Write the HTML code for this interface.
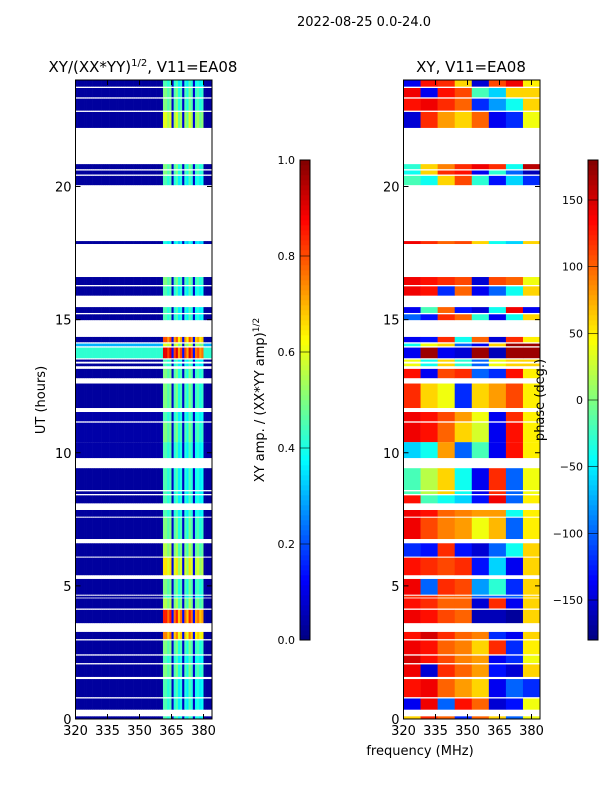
<!DOCTYPE html>
<html><head><meta charset="utf-8"><style>
body{margin:0;background:#fff;}
svg text{font-family:"DejaVu Sans","Liberation Sans",sans-serif;fill:#000;}
</style></head><body>
<svg id="fig" width="600" height="800" viewBox="0 0 600 800" xmlns="http://www.w3.org/2000/svg">
<rect width="600" height="800" fill="#fff"/>
<text x="364" y="26" font-size="13" text-anchor="middle">2022-08-25 0.0-24.0</text>
<text x="143" y="72" font-size="15" text-anchor="middle">XY/(XX*YY)<tspan font-size="10" dy="-6">1/2</tspan><tspan dy="6">, V11=EA08</tspan></text>
<text x="471" y="72" font-size="15" text-anchor="middle">XY, V11=EA08</text>
<text transform="translate(45,400) rotate(-90)" font-size="13" text-anchor="middle">UT (hours)</text>
<text x="420" y="755" font-size="13" text-anchor="middle">frequency (MHz)</text>
<text transform="translate(264,400) rotate(-90)" font-size="13" text-anchor="middle">XY amp. / (XX*YY amp)<tspan font-size="9" dy="-5">1/2</tspan></text>
<g id="left"></g>
<g id="right"></g>
<g id="cb1"></g>
<g id="cb2"></g>
<text transform="translate(544,400) rotate(-90)" font-size="13" text-anchor="middle">phase (deg.)</text>
</svg>
<script>
// time segments with data [start hour, end hour]
const segStart=[0,0.35,0.82,1.58,2.1,2.43,3.0,3.6,4.15,4.56,4.67,5.4,6.1,6.76,7.6,8.1,8.45,8.6,9.8,10.4,11.18,11.68,12.8,13.25,13.42,13.55,14.0,14.15,14.98,15.25,15.9,16.3,17.84,20.05,20.45,20.65,22.2,22.85,23.35,23.75];
const segEnd=[0.1,0.77,1.5,2.05,2.38,2.95,3.27,4.1,4.53,4.63,5.26,6.06,6.6,7.56,7.85,8.4,8.55,9.42,10.4,11.13,11.53,12.6,13.15,13.35,13.5,13.95,14.1,14.35,15.2,15.47,16.25,16.6,17.95,20.4,20.6,20.84,22.8,23.3,23.7,24.0];
// amplitude gain in bright channels per segment
const ampGain=[0.45,0.45,0.45,0.5,0.45,0.5,0.75,0.85,0.55,0.45,0.5,0.65,0.55,0.5,0.45,0.45,0.45,0.45,0.45,0.5,0.45,0.5,0.5,0.45,0.45,0.9,0.6,0.8,0.45,0.45,0.45,0.5,0.4,0.45,0.5,0.5,0.6,0.5,0.5,0.45];
// amplitude floor outside bright channels
const ampFloor=[0.03,0.03,0.03,0.03,0.03,0.03,0.03,0.03,0.03,0.03,0.03,0.03,0.03,0.03,0.03,0.03,0.03,0.03,0.04,0.04,0.04,0.03,0.03,0.03,0.03,0.42,0.3,0.03,0.03,0.03,0.03,0.03,0.03,0.03,0.03,0.03,0.03,0.03,0.03,0.03];
// channel profile, 1 MHz channels from 320 to 384
const chanProfile=[0,0,0,0,0,0,0,0,0,0,0,0,0,0,0,0,0,0,0,0,0,0,0,0,0,0,0,0,0,0,0,0,0,0,0,0,0,0,0,0,0,1,1,0.9,1,0.15,0.9,1,0.8,0.9,0.15,0.9,0.8,1,0.9,0.15,0.85,0.9,0.8,0.85,0,0,0,0];
// phase (deg) per segment, 8 MHz columns 320..384
const phase=[
[60,120,100,-120,100,60,-100,40],[-140,140,-100,130,100,-150,-130,40],[130,140,100,80,60,-140,-100,-120],
[140,-150,120,100,80,-130,-150,60],[150,130,110,90,80,-140,-120,40],[140,130,100,90,60,120,-120,50],
[130,150,120,100,90,-120,-140,60],[140,130,110,100,-160,-160,-170,60],[130,120,100,100,-150,120,-140,60],
[120,120,100,100,-100,-100,-100,60],[140,-100,120,110,-80,-30,-120,60],[130,120,110,120,-130,-60,-140,60],
[-120,-130,120,-130,-150,-100,-40,60],[140,110,90,80,40,70,-100,50],[140,130,100,90,80,80,-40,50],
[130,-20,-40,-60,-130,140,-100,50],[-20,20,60,-40,-140,120,-100,40],[-20,20,60,-40,-140,120,-100,40],
[-60,-40,80,-100,-20,-140,130,50],[140,130,100,60,30,-140,130,50],[140,130,110,80,40,-140,120,50],
[120,60,40,-120,60,80,110,50],[130,-140,110,120,-100,-120,130,50],[40,-40,60,-30,-100,40,60,60],
[40,-40,60,-30,-100,40,60,60],[-140,170,-140,-150,170,-160,170,170],[-40,40,60,-100,-140,60,170,170],
[-140,-130,120,-40,100,-150,120,50],[-100,-130,120,100,-30,-140,-40,60],[-140,-20,100,-130,-150,-40,140,-140],
[140,130,-120,100,-140,-100,-40,60],[140,130,120,110,-150,110,100,40],[140,120,100,110,60,-40,-60,60],
[-20,-40,60,110,-30,-130,-60,-120],[-40,60,120,130,-140,-30,-100,-160],[-30,60,90,120,140,120,-40,160],
[-150,120,80,60,100,-140,-120,40],[130,140,120,100,-120,-80,-40,60],[140,-140,130,110,-20,-60,60,60],
[-140,130,120,60,-150,110,140,50]];
const yTicks=[0,5,10,15,20];
const xTicks=[320,335,350,365,380];
const ampTicks=[0.0,0.2,0.4,0.6,0.8,1.0];
const phTicks=[150,100,50,0,-50,-100,-150];

const NS='http://www.w3.org/2000/svg';
function mk(t,a,p){const e=document.createElementNS(NS,t);for(const k in a)e.setAttribute(k,a[k]);p.appendChild(e);return e;}
function jet(v){v=Math.max(0,Math.min(1,v));
 const r=Math.max(0,Math.min(1,Math.min(4*v-1.5,-4*v+4.5)));
 const g=Math.max(0,Math.min(1,Math.min(4*v-0.5,-4*v+3.5)));
 const b=Math.max(0,Math.min(1,Math.min(4*v+0.5,-4*v+2.5)));
 return 'rgb('+Math.round(r*255)+','+Math.round(g*255)+','+Math.round(b*255)+')';}
const Y0=719,Y1=80;
const yS=h=>Y0-(h/24)*(Y0-Y1);
function xS(x0){return f=>x0+(f-320)/15*32;}
const W=136.5;

function axes(g,x0){
 const x=xS(x0);
 mk('rect',{x:x0,y:Y1,width:W,height:Y0-Y1,fill:'none',stroke:'#000','stroke-width':1},g);
 yTicks.forEach(t=>{const y=yS(t);
  mk('line',{x1:x0,x2:x0+5,y1:y,y2:y,stroke:'#000'},g);
  mk('line',{x1:x0+W-5,x2:x0+W,y1:y,y2:y,stroke:'#000'},g);
  const tx=mk('text',{x:x0-4,y:y+5,'font-size':13,'text-anchor':'end'},g);tx.textContent=t;
  
  });
 xTicks.forEach(t=>{const xx=x(t);
  mk('line',{x1:xx,x2:xx,y1:Y0,y2:Y0-5,stroke:'#000'},g);
  mk('line',{x1:xx,x2:xx,y1:Y1,y2:Y1+5,stroke:'#000'},g);
  const tx=mk('text',{x:xx,y:Y0+16,'font-size':13,'text-anchor':'middle'},g);tx.textContent=t;
  
  });
}
// left amplitude
const gl=document.getElementById('left'),xl=xS(75.5);
segStart.forEach((s,i)=>{const y1=yS(segEnd[i]),y2=yS(s);
 chanProfile.forEach((p,c)=>{
  const v=p>0?ampGain[i]*p:ampFloor[i];
  const r=mk('rect',{x:xl(320+c),y:y1,width:32/15+0.3,height:y2-y1,fill:jet(v)},gl);
  
  });});
axes(gl,75.5);
// right phase
const gr=document.getElementById('right'),xr=xS(403.5);
segStart.forEach((s,i)=>{const y1=yS(segEnd[i]),y2=yS(s);
 phase[i].forEach((p,c)=>{
  const r=mk('rect',{x:xr(320+8*c),y:y1,width:8*32/15+0.3,height:y2-y1,fill:jet((p+180)/360)},gr);
  
  });});
axes(gr,403.5);
// colorbars
function cbar(g,x0,lo,hi,ticks,fmt){
 for(let k=0;k<96;k++){const r=mk('rect',{x:x0,y:640-(k+1)*5,width:10,height:5.3,fill:jet((k+0.5)/96)},g);
  
  }
 mk('rect',{x:x0,y:160,width:10,height:480,fill:'none',stroke:'#000'},g);
 ticks.forEach(t=>{const y=640-(t-lo)/(hi-lo)*480;
  mk('line',{x1:x0,x2:x0+10,y1:y,y2:y,stroke:'#000','stroke-width':0.6},g);
  const tx=mk('text',{x:x0-5,y:y+4,'font-size':11,'text-anchor':'end'},g);tx.textContent=fmt(t);
  
  });
}
cbar(document.getElementById('cb1'),300,0,1,ampTicks,t=>t.toFixed(1));
cbar(document.getElementById('cb2'),588,-180,180,phTicks,t=>t<0?'\u2212'+(-t):''+t);
</script>
</body></html>
